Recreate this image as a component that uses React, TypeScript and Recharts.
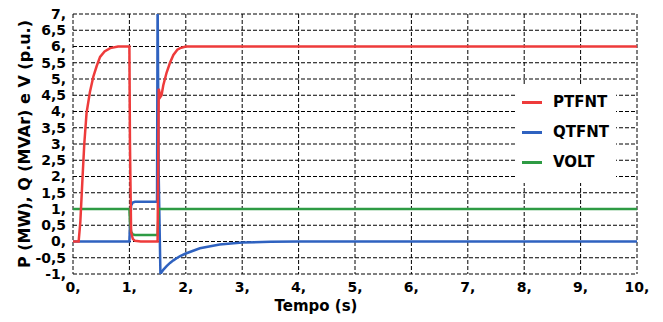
import { CartesianGrid, Legend, Line, LineChart, XAxis, YAxis } from 'recharts';

const tempo = [0, 0.1, 0.13, 0.17, 0.2, 0.24, 0.3, 0.36, 0.42, 0.48, 0.56, 0.66, 0.8, 1.0, 1.01, 1.03, 1.06, 1.1, 1.2, 1.3, 1.4, 1.49, 1.5, 1.52, 1.55, 1.57, 1.6, 1.66, 1.72, 1.78, 1.85, 1.9, 2.0, 2.25, 2.6, 3.0, 3.5, 4.0, 10.0];
const ptfnt = [0, 0, 0.6, 2.0, 3.0, 3.95, 4.6, 5.07, 5.4, 5.68, 5.85, 5.95, 6.0, 6.0, 3.0, 0.3, 0.08, 0.02, 0, 0, 0, 0, 0, 4.7, 4.45, 4.5, 4.8, 5.2, 5.5, 5.74, 5.9, 5.95, 6, 6, 6, 6, 6, 6, 6];
const qtfnt = [0, 0, 0, 0, 0, 0, 0, 0, 0, 0, 0, 0, 0, 0, 0.5, 1.1, 1.2, 1.22, 1.22, 1.22, 1.22, 1.22, 7.5, 2.0, -1.0, -0.95, -0.87, -0.76, -0.66, -0.58, -0.5, -0.45, -0.37, -0.21, -0.09, -0.03, -0.01, 0, 0];
const volt = [1, 1, 1, 1, 1, 1, 1, 1, 1, 1, 1, 1, 1, 1, 0.6, 0.3, 0.22, 0.2, 0.2, 0.2, 0.2, 0.2, 0.2, 1, 1, 1, 1, 1, 1, 1, 1, 1, 1, 1, 1, 1, 1, 1, 1];

const xTicks = [0, 1, 2, 3, 4, 5, 6, 7, 8, 9, 10];
const yTicks = [-1, -0.5, 0, 0.5, 1, 1.5, 2, 2.5, 3, 3.5, 4, 4.5, 5, 5.5, 6, 6.5, 7];

const series = [
    { key: 'PTFNT', color: '#ee3b3b' },
    { key: 'QTFNT', color: '#2f62c0' },
    { key: 'VOLT', color: '#2e9b44' },
];

const data = tempo.map((t, i) => ({ t, PTFNT: ptfnt[i], QTFNT: qtfnt[i], VOLT: volt[i] }));

const FONT = '"DejaVu Sans", Verdana, sans-serif';

const fmt = (v: number) => Number.isInteger(v) ? `${v},` : String(v).replace('.', ',');

const LegendBox = () => (
    <div style={{ background: 'white', width: 100, height: 99, paddingTop: 3, boxSizing: 'border-box', fontFamily: FONT, fontWeight: 'bold', fontSize: 15 }}>
        {series.map(s => (
            <div key={s.key} style={{ height: 30, display: 'flex', alignItems: 'center', paddingLeft: 6 }}>
                <span style={{ display: 'inline-block', width: 20, height: 3, background: s.color, marginRight: 11 }} />
                <span style={{ color: '#000' }}>{s.key}</span>
            </div>
        ))}
    </div>
);

export default function App() {
    return (
        <div style={{ margin: -8 }}>
            <LineChart
                width={663}
                height={322}
                data={data}
                margin={{ top: 14, right: 26, left: 0, bottom: 0 }}
                style={{ fontFamily: FONT }}
            >
                <CartesianGrid stroke="#000" strokeDasharray="4 2" strokeWidth={1} />
                <XAxis
                    dataKey="t"
                    type="number"
                    domain={[0, 10]}
                    ticks={xTicks}
                    tickFormatter={fmt}
                    axisLine={false}
                    tickLine={false}
                    height={48}
                    tick={{ fill: '#000', fontSize: 14, fontWeight: 'bold' }}
                    tickMargin={2}
                    label={{
                        content: () => (
                            <text x={316} y={311} textAnchor="middle" fontFamily={FONT} fontWeight="bold" fontSize={15} fill="#000">Tempo (s)</text>
                        ),
                    }}
                />
                <YAxis
                    type="number"
                    domain={[-1, 7]}
                    ticks={yTicks}
                    tickFormatter={fmt}
                    allowDataOverflow
                    axisLine={false}
                    tickLine={false}
                    width={73}
                    interval={0}
                    tick={{ fill: '#000', fontSize: 14, fontWeight: 'bold' }}
                    tickMargin={1}
                    label={{
                        content: () => (
                            <text x={24} y={144} transform="rotate(-90 24 144)" textAnchor="middle" dominantBaseline="central" fontFamily={FONT} fontWeight="bold" fontSize={16} fill="#000">P (MW), Q (MVAr) e V (p.u.)</text>
                        ),
                    }}
                />
                <Legend
                    layout="vertical"
                    align="center"
                    verticalAlign="middle"
                    wrapperStyle={{ left: 516, top: 84, width: 100, height: 99 }}
                    content={() => <LegendBox />}
                />
                <Line type="linear" dataKey="QTFNT" stroke="#2f62c0" strokeWidth={2.5} dot={false} isAnimationActive={false} />
                <Line type="linear" dataKey="VOLT" stroke="#2e9b44" strokeWidth={2.5} dot={false} isAnimationActive={false} />
                <Line type="linear" dataKey="PTFNT" stroke="#ee3b3b" strokeWidth={2.5} dot={false} isAnimationActive={false} />
            </LineChart>
        </div>
    );
}
